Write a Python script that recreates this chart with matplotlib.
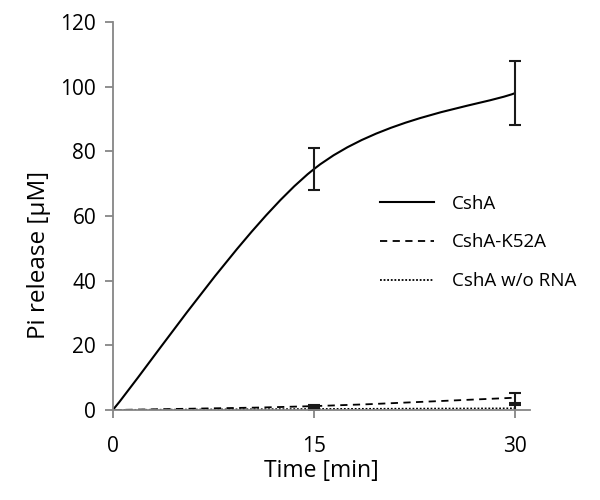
import numpy as np
import matplotlib
matplotlib.use("Agg")
import matplotlib.pyplot as plt
from matplotlib.path import Path
from matplotlib.patches import PathPatch
from matplotlib.lines import Line2D

plt.rcParams['font.family'] = ['Open Sans', 'DejaVu Sans']

# data
time = [0, 15, 30]
csha = [0, 74.5, 98]
csha_err = [0, 6.5, 10]
k52a = [0, 1.2, 3.8]
k52a_err = [0, 0.3, 1.5]
norna = [0, 0.3, 0.5]
norna_err = [0, 0.2, 1.0]
labels = ['CshA', 'CshA-K52A', 'CshA w/o RNA']


def smooth_path(xs, ys):
    # Excel-like smoothed line: cubic bezier with 1/6 tangents
    pts = np.column_stack([xs, ys]).astype(float)
    n = len(pts)
    verts = [pts[0]]
    codes = [Path.MOVETO]
    for i in range(n - 1):
        p0 = pts[i - 1] if i > 0 else pts[i]
        p1 = pts[i]
        p2 = pts[i + 1]
        p3 = pts[i + 2] if i + 2 < n else pts[i + 1]
        c1 = p1 + (p2 - p0) / 6.0
        c2 = p2 - (p3 - p1) / 6.0
        verts += [c1, c2, p2]
        codes += [Path.CURVE4] * 3
    return Path(verts, codes)


fig = plt.figure(figsize=(6, 5), dpi=100)
ax = fig.add_axes([0.188, 0.18, 0.695, 0.776])

styles = [
    dict(linestyle='-', linewidth=1.5),
    dict(linestyle=(0, (4, 3)), linewidth=1.3),
    dict(linestyle=(0, (1, 1)), linewidth=1.3),
]
series = [(csha, csha_err), (k52a, k52a_err), (norna, norna_err)]

handles = []
for (vals, errs), st, lab in zip(series, styles, labels):
    patch = PathPatch(smooth_path(time, vals), facecolor='none', edgecolor='black',
                      **st)
    ax.add_patch(patch)
    ax.errorbar(time[1:], vals[1:], yerr=errs[1:], fmt='none', ecolor='#1a1a1a',
                elinewidth=1.5, capsize=4, capthick=1.5)
    handles.append(Line2D([], [], color='black', label=lab, **st))

ax.set_xlim(0, 31.1)
ax.set_ylim(0, 120)
ax.set_xticks([0, 15, 30])
ax.set_yticks(np.arange(0, 121, 20))

for s in ['top', 'right']:
    ax.spines[s].set_visible(False)
for s in ['left', 'bottom']:
    ax.spines[s].set_color('#868686')
    ax.spines[s].set_linewidth(1.3)
ax.tick_params(axis='both', colors='#868686', length=6, width=1.3,
               labelsize=15, labelcolor='black')
ax.tick_params(axis='x', pad=13)
ax.tick_params(axis='y', pad=6)

ax.set_xlabel('Time [min]', fontsize=16.5, labelpad=1)
ax.set_ylabel('Pi release [µM]', fontsize=17.5)
ax.yaxis.set_label_coords(-0.148, 0.40)

ax.legend(handles=handles, loc='upper left', bbox_to_anchor=(0.6, 0.598),
          frameon=False, fontsize=13.5, handlelength=2.9, handletextpad=0.95,
          labelspacing=1.1)

fig.savefig('out.png', dpi=100)
